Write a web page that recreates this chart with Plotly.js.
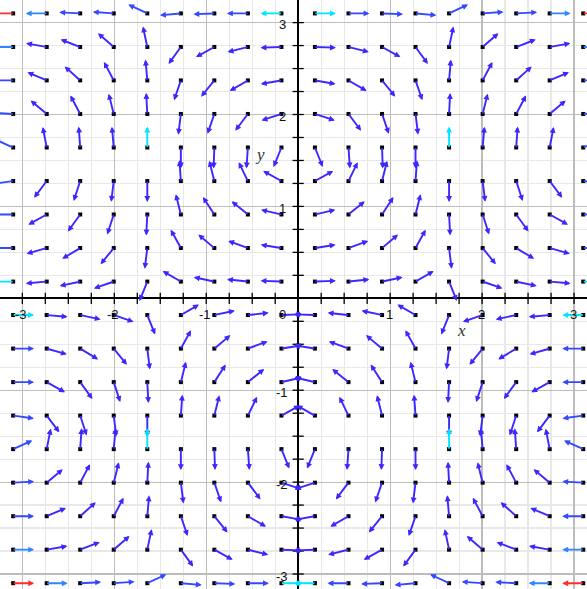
<!DOCTYPE html>
<html><head><meta charset="utf-8">
<script src="https://cdn.plot.ly/plotly-3.0.1.min.js"></script>
<style>html,body{margin:0;padding:0;background:#fff}#chart{width:587px;height:589px}</style>
</head><body><div id="chart"></div>
<script>
// Sample points of the field (18 columns, 18 rows: rows listed top to bottom)
const gridX = [-3.1,-2.735,-2.371,-2.006,-1.641,-1.276,-0.912,-0.547,-0.182,0.182,0.547,0.912,1.276,1.641,2.006,2.371,2.735,3.1];
const gridY = [3.1,2.735,2.371,2.006,1.641,1.276,0.912,0.547,0.182,-0.182,-0.547,-0.912,-1.276,-1.641,-2.006,-2.371,-2.735,-3.1];

// Direction of each (normalized) arrow, degrees counter-clockwise from +x
const angleDeg = [
 [180,180,177,176,155,185,182,180,180, 0,0,-2,-5,25,4,3,0,0],
 [180,170,159,139,102,234,209,194,182, -2,-14,-29,-54,78,41,21,10,0],
 [180,157,138,118,95,251,231,210,190, -10,-30,-51,-71,85,62,42,23,0],
 [177,140,118,104,93,263,251,233,198, -18,-53,-71,-83,87,76,62,40,3],
 [156,101,94,95,90,270,268,266,248, -68,-86,-88,-90,90,85,86,79,24],
 [188,233,252,263,270,94,104,116,151, 29,64,76,86,-90,-83,-72,-53,-8],
 [180,209,234,252,267,104,123,141,167, 13,39,57,76,-87,-72,-54,-29,0],
 [180,196,211,231,263,119,140,160,171, 9,20,40,61,-83,-51,-31,-16,0],
 [180,185,192,199,248,150,168,174,178, 2,6,12,30,-68,-19,-12,-5,0],
 [0,-5,-12,-19,-68,30,12,6,2, 178,174,168,150,248,199,192,185,180],
 [0,-16,-31,-51,-83,61,40,20,9, 171,160,140,119,263,231,211,196,180],
 [0,-29,-54,-72,-87,76,57,39,13, 167,141,123,104,267,252,234,209,180],
 [-8,-53,-72,-83,-90,86,76,64,29, 151,116,104,94,270,263,252,233,188],
 [24,79,86,85,90,-90,-88,-86,-68, 248,266,268,270,90,95,94,101,156],
 [3,40,62,76,87,-83,-71,-53,-18, 198,233,251,263,93,104,118,140,177],
 [0,23,42,62,85,-71,-51,-30,-10, 190,210,231,251,95,118,138,157,180],
 [0,10,21,41,78,-54,-29,-14,-2, 182,194,209,234,102,139,159,170,180],
 [0,0,3,4,25,-5,-2,0,0, 180,180,182,185,155,176,177,180,180]
];

// Magnitude class of each arrow (0 violet ... 4 red)
const magLevel = [
 [4,2,1,1,1,1,1,1,3, 3,1,1,1,1,1,1,2,4],
 [2,0,0,0,0,0,0,0,0, 0,0,0,0,0,0,0,0,2],
 [1,0,0,0,0,0,0,0,0, 0,0,0,0,0,0,0,0,1],
 [1,0,0,0,0,0,0,0,0, 0,0,0,0,0,0,0,0,1],
 [1,0,0,0,3,0,0,0,0, 0,0,0,0,3,0,0,0,1],
 [1,0,0,0,0,0,0,0,0, 0,0,0,0,0,0,0,0,1],
 [1,0,0,0,0,0,0,0,0, 0,0,0,0,0,0,0,0,1],
 [1,0,0,0,0,0,0,0,0, 0,0,0,0,0,0,0,0,1],
 [3,0,0,0,0,0,0,0,0, 0,0,0,0,0,0,0,0,3],
 [3,0,0,0,0,0,0,0,0, 0,0,0,0,0,0,0,0,3],
 [1,0,0,0,0,0,0,0,0, 0,0,0,0,0,0,0,0,1],
 [1,0,0,0,0,0,0,0,0, 0,0,0,0,0,0,0,0,1],
 [1,0,0,0,0,0,0,0,0, 0,0,0,0,0,0,0,0,1],
 [1,0,0,0,3,0,0,0,0, 0,0,0,0,3,0,0,0,1],
 [1,0,0,0,0,0,0,0,0, 0,0,0,0,0,0,0,0,1],
 [1,0,0,0,0,0,0,0,0, 0,0,0,0,0,0,0,0,1],
 [2,0,0,0,0,0,0,0,0, 0,0,0,0,0,0,0,0,2],
 [4,2,1,1,1,1,1,1,3, 3,1,1,1,1,1,1,2,4]
];
const levelColors = ['#3d27ff','#3548ff','#2f86ff','#00e6ff','#ff2e2e'];

const tickValsX = [-3,-2,-1,1,2,3];
const tickTextX = ['-3','-2','-1','1','2','3'];
const tickValsY = [3,2,1,-1,-2,-3];
const tickTextY = ['3','2','1','-1','-2','-3'];
const originLabel = '0';
const xTitle = 'x', yTitle = 'y';

const ARROW_LEN = 0.228;   // arrows drawn at a fixed length (normalized field)
const X_RANGE = [-3.243, 3.141];
const Y_RANGE = [-3.163, 3.246];

const annotations = [];
const dotX = [], dotY = [];
gridY.forEach((yv, r) => {
  gridX.forEach((xv, c) => {
    dotX.push(xv); dotY.push(yv);
    const a = angleDeg[r][c] * Math.PI / 180;
    annotations.push({
      xref: 'x', yref: 'y', axref: 'x', ayref: 'y',
      ax: xv, ay: yv,
      x: xv + ARROW_LEN * Math.cos(a), y: yv + ARROW_LEN * Math.sin(a),
      text: '', showarrow: true, arrowhead: 2, arrowsize: 0.62, arrowwidth: 1.9,
      arrowcolor: levelColors[magLevel[r][c]], standoff: 0, startstandoff: 0,
      font: {size: 1}, borderpad: 0
    });
  });
});

// axis tick marks (every 0.25) crossing the axis lines
const minorTicks = [];
for (let k = -12; k <= 12; k++) minorTicks.push(k / 4);

const labelFont = {family: 'Liberation Sans, Arial, sans-serif', size: 13, color: '#111'};
tickValsX.forEach((v, i) => annotations.push({
  xref: 'x', yref: 'y', x: v, y: 0, text: tickTextX[i], showarrow: false,
  yshift: -16, xshift: -1, font: labelFont
}));
tickValsY.forEach((v, i) => annotations.push({
  xref: 'x', yref: 'y', x: 0, y: v, text: tickTextY[i], showarrow: false,
  xshift: -16, yshift: -2, font: labelFont
}));
annotations.push({xref: 'x', yref: 'y', x: 0, y: 0, text: originLabel, showarrow: false,
  xshift: -16, yshift: -16, font: labelFont});
const titleFont = {family: 'Liberation Serif, Times New Roman, serif', size: 17, color: '#333'};
annotations.push({xref: 'x', yref: 'y', x: 1.78, y: -0.35, text: '<i>' + xTitle + '</i>', showarrow: false, font: titleFont});
annotations.push({xref: 'x', yref: 'y', x: -0.41, y: 1.56, text: '<i>' + yTitle + '</i>', showarrow: false, font: titleFont});

const traces = [
  {type: 'scatter', mode: 'markers', x: minorTicks, y: minorTicks.map(() => 0),
   marker: {symbol: 'line-ns', size: 8, line: {width: 1.3, color: '#000'}}, hoverinfo: 'skip', cliponaxis: false},
  {type: 'scatter', mode: 'markers', x: minorTicks.map(() => 0), y: minorTicks,
   marker: {symbol: 'line-ew', size: 8, line: {width: 1.3, color: '#000'}}, hoverinfo: 'skip', cliponaxis: false},
  {type: 'scatter', mode: 'markers', x: dotX, y: dotY,
   marker: {symbol: 'square', size: 4, color: '#000'}, hoverinfo: 'skip', cliponaxis: false}
];

const axisCommon = {
  showticklabels: false, ticks: '', showline: false,
  showgrid: true, tick0: 0, dtick: 1, gridcolor: '#bdbdbd', gridwidth: 1.2,
  minor: {dtick: 0.25, tick0: 0, showgrid: true, gridcolor: '#e8e8e8', gridwidth: 1.2},
  zeroline: true, zerolinecolor: '#000', zerolinewidth: 2, fixedrange: true
};

Plotly.newPlot('chart', traces, {
  width: 587, height: 589,
  margin: {l: 0, r: 0, t: 0, b: 0},
  paper_bgcolor: '#fff', plot_bgcolor: '#fff',
  showlegend: false,
  xaxis: Object.assign({range: X_RANGE}, axisCommon),
  yaxis: Object.assign({range: Y_RANGE}, axisCommon),
  annotations: annotations
}, {displayModeBar: false, staticPlot: true});
</script>
</body></html>
